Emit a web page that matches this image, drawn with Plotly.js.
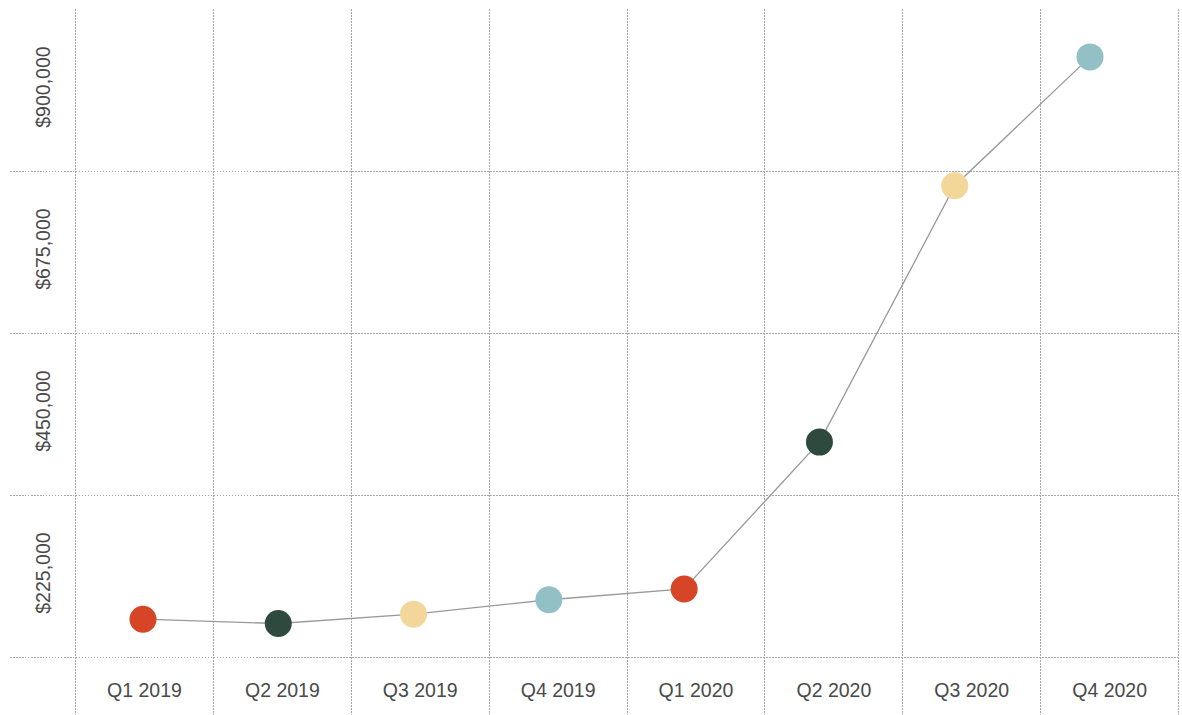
<!DOCTYPE html>
<html>
<head>
<meta charset="utf-8">
<script src="https://cdn.plot.ly/plotly-3.0.1.min.js"></script>
<style>html,body{margin:0;padding:0;background:#fff;}#chart{width:1182px;height:715px;}</style>
</head>
<body>
<div id="chart"></div>
<script>
const quarters = ['Q1 2019', 'Q2 2019', 'Q3 2019', 'Q4 2019', 'Q1 2020', 'Q2 2020', 'Q3 2020', 'Q4 2020'];
const revenue = [165000, 159000, 172000, 192000, 207000, 411000, 767000, 946000];
const dotColors = ['#D64525', '#2E4A3F', '#F2D69A', '#93C0C5', '#D64525', '#2E4A3F', '#F2D69A', '#93C0C5'];
const yTickVals = [225000, 450000, 675000, 900000];
const yTickText = ['$225,000', '$450,000', '$675,000', '$900,000'];
const yGridVals = [112500, 337500, 562500, 787500];

const gridColor = '#a8a8a8';
const gridDash = '1.5px,1.5px';
const labelFont = {family: 'Liberation Sans, Arial, sans-serif', size: 19.5, color: '#4a4a4a'};

const traces = [
  {
    x: quarters, y: revenue, xaxis: 'x', yaxis: 'y',
    type: 'scatter', mode: 'lines+markers',
    line: {color: '#999999', width: 1.3},
    marker: {size: 27, color: dotColors, line: {width: 0}},
    showlegend: false, hoverinfo: 'x+y'
  },
  {
    x: quarters, y: revenue, xaxis: 'x2', yaxis: 'y',
    type: 'scatter', mode: 'markers',
    marker: {opacity: 0, size: 1},
    showlegend: false, hoverinfo: 'skip'
  }
];

const layout = {
  width: 1182, height: 715,
  margin: {l: 10, r: 2, t: 9, b: 0, pad: 0},
  paper_bgcolor: '#ffffff', plot_bgcolor: '#ffffff',
  font: labelFont,
  xaxis: {
    type: 'category', categoryorder: 'array', categoryarray: quarters,
    range: [-0.983, 7.665], visible: false, fixedrange: true
  },
  xaxis2: {
    type: 'category', categoryorder: 'array', categoryarray: quarters,
    overlaying: 'x', anchor: 'free', position: 0.055, side: 'bottom',
    range: [-0.9755, 7.5104], tickson: 'boundaries',
    showgrid: true, gridcolor: gridColor, gridwidth: 1, griddash: gridDash,
    showline: false, zeroline: false, ticks: '', tickfont: labelFont, fixedrange: true
  },
  yaxis: {
    range: [31944, 1012500], anchor: 'free', position: 0.0376, side: 'left',
    tickmode: 'array', tickvals: yTickVals, ticktext: yTickText, tickangle: -90,
    showgrid: false, zeroline: false, showline: false, ticks: '', tickfont: labelFont,
    minor: {tickmode: 'array', tickvals: yGridVals, showgrid: true, gridcolor: gridColor, gridwidth: 1, griddash: gridDash, ticks: ''},
    fixedrange: true
  }
};

Plotly.newPlot('chart', traces, layout, {displayModeBar: false, staticPlot: true});
</script>
</body>
</html>
